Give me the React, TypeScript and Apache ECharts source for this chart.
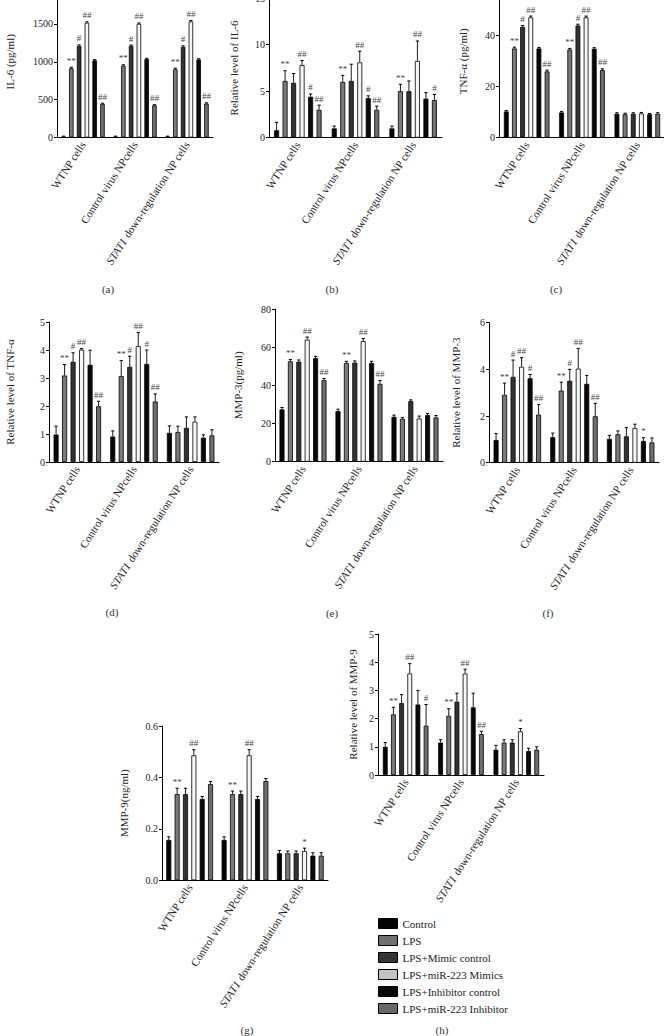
import React, { useEffect, useRef } from "react";
import * as echarts from "echarts";

const categories = ["WTNP cells", "Control virus NPcells", "STAT1 down-regulation NP cells"];
const seriesNames = [
  "Control",
  "LPS",
  "LPS+Mimic control",
  "LPS+miR-223 Mimics",
  "LPS+Inhibitor control",
  "LPS+miR-223 Inhibitor",
];

// rows = series (6), columns = cell groups (3)
const il6Values = [[12, 12, 12], [913, 948, 900], [1209, 1209, 1196], [1515, 1500, 1532], [1018, 1035, 1030], [443, 425, 448]];
const il6Errors = [[6, 6, 6], [14, 12, 14], [14, 12, 14], [12, 12, 12], [10, 10, 10], [10, 8, 10]];
const il6Marks = [["", "", ""], ["**", "**", "**"], ["#", "#", "#"], ["##", "##", "##"], ["", "", ""], ["##", "##", "##"]];

const il6RelValues = [[0.8, 1.0, 1.0], [6.1, 6.0, 5.0], [5.9, 6.1, 5.0], [7.8, 8.1, 8.25], [4.4, 4.25, 4.2], [3.0, 3.0, 4.05]];
const il6RelErrors = [[0.85, 0.25, 0.25], [1.1, 0.7, 0.75], [1.0, 1.8, 1.1], [0.5, 1.2, 2.15], [0.3, 0.25, 0.65], [0.5, 0.4, 0.6]];
const il6RelMarks = [["", "", ""], ["**", "**", "**"], ["", "", ""], ["##", "##", "##"], ["#", "#", ""], ["##", "##", "#"]];

const tnfValues = [[10.3, 9.9, 9.4], [35.0, 34.6, 9.2], [43.5, 44.0, 9.4], [47.2, 47.2, 9.5], [35.0, 34.9, 9.2], [26.0, 26.5, 9.4]];
const tnfErrors = [[0.4, 0.4, 0.4], [0.5, 0.4, 0.4], [0.5, 0.5, 0.4], [0.5, 0.5, 0.4], [0.4, 0.4, 0.3], [0.5, 0.5, 0.4]];
const tnfMarks = [["", "", ""], ["**", "**", ""], ["#", "#", ""], ["##", "##", ""], ["", "", ""], ["##", "##", ""]];

const tnfRelValues = [[0.98, 0.91, 1.04], [3.09, 3.07, 1.07], [3.58, 3.4, 1.22], [4.01, 4.14, 1.44], [3.47, 3.5, 0.87], [1.99, 2.16, 0.95]];
const tnfRelErrors = [[0.3, 0.2, 0.25], [0.39, 0.55, 0.21], [0.32, 0.38, 0.39], [0.04, 0.48, 0.17], [0.52, 0.5, 0.1], [0.18, 0.27, 0.2]];
const tnfRelMarks = [["", "", ""], ["**", "**", ""], ["#", "#", ""], ["##", "##", ""], ["", "#", ""], ["##", "##", ""]];

const mmp3Values = [[27.4, 26.5, 23.5], [52.6, 51.7, 22.5], [52.4, 51.9, 31.7], [63.9, 63.2, 22.6], [54.2, 51.7, 24.4], [42.7, 40.8, 23.2]];
const mmp3Errors = [[1.0, 1.0, 0.9], [0.9, 0.9, 0.7], [0.9, 0.9, 0.7], [1.4, 1.3, 1.3], [1.0, 0.9, 0.9], [0.9, 1.7, 1.0]];
const mmp3Marks = [["", "", ""], ["**", "**", ""], ["", "", ""], ["##", "##", ""], ["", "", ""], ["##", "##", ""]];

const mmp3RelValues = [[0.97, 1.09, 1.02], [2.91, 3.09, 1.22], [3.68, 3.51, 1.13], [4.11, 4.03, 1.49], [3.62, 3.38, 0.93], [2.06, 1.99, 0.87]];
const mmp3RelErrors = [[0.28, 0.18, 0.15], [0.5, 0.36, 0.14], [0.72, 0.49, 0.37], [0.39, 0.87, 0.16], [0.16, 0.36, 0.14], [0.43, 0.55, 0.19]];
const mmp3RelMarks = [["", "", ""], ["**", "**", ""], ["#", "#", ""], ["##", "##", ""], ["#", "", "*"], ["##", "##", ""]];

const mmp9Values = [[0.157, 0.157, 0.105], [0.335, 0.335, 0.105], [0.335, 0.335, 0.105], [0.486, 0.486, 0.114], [0.316, 0.316, 0.096], [0.374, 0.386, 0.096]];
const mmp9Errors = [[0.012, 0.012, 0.011], [0.023, 0.012, 0.009], [0.023, 0.012, 0.009], [0.022, 0.022, 0.011], [0.01, 0.01, 0.011], [0.01, 0.01, 0.011]];
const mmp9Marks = [["", "", ""], ["**", "**", ""], ["", "", ""], ["##", "##", "*"], ["", "", ""], ["", "", ""]];

const mmp9RelValues = [[1.0, 1.15, 0.9], [2.15, 2.1, 1.15], [2.55, 2.6, 1.15], [3.6, 3.6, 1.55], [2.5, 2.4, 0.85], [1.75, 1.45, 0.9]];
const mmp9RelErrors = [[0.15, 0.1, 0.15], [0.25, 0.25, 0.1], [0.3, 0.3, 0.1], [0.35, 0.15, 0.1], [0.5, 0.5, 0.1], [0.75, 0.1, 0.1]];
const mmp9RelMarks = [["", "", ""], ["**", "**", ""], ["", "", ""], ["##", "##", "*"], ["", "", ""], ["#", "##", ""]];

const yNames = [
  "IL-6 (pg/ml)",
  "Relative level of IL-6",
  "TNF-α (pg/ml)",
  "Relative level of TNF-α",
  "MMP-3(pg/ml)",
  "Relative level of MMP-3",
  "MMP-9(ng/ml)",
  "Relative level of MMP-9",
];
const yMax = [2000, 15, 60, 5, 80, 6, 0.6, 5];
const yInterval = [500, 5, 20, 1, 20, 2, 0.2, 1];
const panelLetters = ["(a)", "(b)", "(c)", "(d)", "(e)", "(f)", "(g)", "(h)"];

const panelValues = [il6Values, il6RelValues, tnfValues, tnfRelValues, mmp3Values, mmp3RelValues, mmp9Values, mmp9RelValues];
const panelErrors = [il6Errors, il6RelErrors, tnfErrors, tnfRelErrors, mmp3Errors, mmp3RelErrors, mmp9Errors, mmp9RelErrors];
const panelMarks = [il6Marks, il6RelMarks, tnfMarks, tnfRelMarks, mmp3Marks, mmp3RelMarks, mmp9Marks, mmp9RelMarks];

// ---- layout / style (not data) ----
const FONT = "'Liberation Serif', 'Times New Roman', 'DejaVu Serif', serif";
const layouts = [
  { left: 57, top: -14, width: 156, height: 151.5, bw: 4.5, gap: 0.73, nameGap: 42, letter: [108, 289], hideMax: true },
  { left: 269, top: -1.8, width: 173, height: 139.5, bw: 5, gap: 0.7, nameGap: 30, letter: [332, 289], hideMax: false },
  { left: 499, top: -15.3, width: 166, height: 153, bw: 4.8, gap: 0.7, nameGap: 31, letter: [556, 289], hideMax: true },
  { left: 49, top: 322, width: 170, height: 140, bw: 5, gap: 0.7, nameGap: 34, letter: [112, 612], hideMax: false },
  { left: 275, top: 309, width: 168, height: 152.7, bw: 5, gap: 0.68, nameGap: 32, letter: [332, 613], hideMax: false },
  { left: 489, top: 322.7, width: 170, height: 140, bw: 5, gap: 0.7, nameGap: 28, letter: [548, 613], hideMax: false },
  { left: 162, top: 726, width: 166, height: 154.3, bw: 5, gap: 0.67, nameGap: 33, letter: [247, 1030], hideMax: false },
  { left: 378, top: 634, width: 166, height: 141, bw: 4.8, gap: 0.7, nameGap: 20, letter: [442, 1030], hideMax: false },
];
const barColors = ["#050505", "#7a7a7a", "#333333", "#f6f6f6", "#0a0a0a", "#6f6f6f"];
const legendColors = ["#050505", "#707070", "#333333", "#c4c4c4", "#0a0a0a", "#686868"];

function labelFormatter(v: string) {
  if (v.indexOf("STAT1") === 0) return "{i|STAT1}{n|" + v.slice(5) + "}";
  return "{n|" + v + "}";
}

function buildOption() {
  const grid: any[] = [];
  const xAxis: any[] = [];
  const yAxis: any[] = [];
  const series: any[] = [];
  const graphic: any[] = [];

  layouts.forEach((L, g) => {
    grid.push({
      left: L.left,
      top: L.top,
      width: L.width,
      height: L.height,
      containLabel: false,
      outerBoundsMode: "none",
    });
    xAxis.push({
      type: "category",
      gridIndex: g,
      data: categories,
      axisLine: { lineStyle: { color: "#000", width: 1 } },
      axisTick: { alignWithLabel: true, length: 3, lineStyle: { color: "#000" } },
      axisLabel: {
        interval: 0,
        rotate: 57,
        margin: 5,
        formatter: labelFormatter,
        rich: {
          i: { fontStyle: "italic", fontSize: 11, fontFamily: FONT, color: "#222" },
          n: { fontSize: 11, fontFamily: FONT, color: "#222" },
        },
      },
    });
    yAxis.push({
      type: "value",
      gridIndex: g,
      min: 0,
      max: yMax[g],
      interval: yInterval[g],
      name: yNames[g],
      nameLocation: "middle",
      nameGap: L.nameGap,
      nameTextStyle: { fontSize: 11, fontFamily: FONT, color: "#222" },
      axisLine: { show: true, lineStyle: { color: "#000", width: 1 } },
      axisTick: { show: true, length: 3, lineStyle: { color: "#000" } },
      splitLine: { show: false },
      axisLabel: {
        fontSize: 10,
        fontFamily: FONT,
        color: "#222",
        margin: 4,
        showMaxLabel: !L.hideMax,
        formatter: g === 6 ? (v: number) => v.toFixed(1) : (v: number) => String(v),
      },
    });

    const vals = panelValues[g];
    const errs = panelErrors[g];
    const marks = panelMarks[g];
    for (let si = 0; si < 6; si++) {
      series.push({
        type: "bar",
        name: seriesNames[si],
        xAxisIndex: g,
        yAxisIndex: g,
        barWidth: L.bw,
        barGap: Math.round(L.gap * 100) + "%",
        data: vals[si],
        itemStyle: { color: barColors[si], borderColor: "#000", borderWidth: 0.8 },
        silent: true,
      });
      series.push({
        type: "custom",
        xAxisIndex: g,
        yAxisIndex: g,
        z: 5,
        silent: true,
        itemStyle: { color: "#444" },
        data: vals[si].map((v, ci) => [ci, v, errs[si][ci]]),
        renderItem: (params: any, api: any) => {
          const ci = api.value(0);
          const v = api.value(1);
          const e = api.value(2);
          const base = api.coord([ci, v]);
          const top = api.coord([ci, v + e]);
          const x = base[0] + (si - 2.5) * L.bw * (1 + L.gap);
          const children: any[] = [
            { type: "line", shape: { x1: x, y1: base[1], x2: x, y2: top[1] }, style: { stroke: "#000", lineWidth: 0.9 } },
            { type: "line", shape: { x1: x - 1.6, y1: top[1], x2: x + 1.6, y2: top[1] }, style: { stroke: "#000", lineWidth: 1 } },
          ];
          const m = marks[si][params.dataIndex];
          if (m) {
            children.push({
              type: "text",
              x: x,
              y: top[1] - 2,
              style: {
                text: m,
                align: "center",
                verticalAlign: "bottom",
                fontSize: 9,
                fontFamily: FONT,
                fill: "#444",
              },
            });
          }
          return { type: "group", children };
        },
      });
    }

    graphic.push({
      type: "text",
      x: L.letter[0],
      y: L.letter[1],
      style: { text: panelLetters[g], fontSize: 11, fontFamily: FONT, fill: "#333", align: "center", verticalAlign: "middle" },
    });
  });

  return {
    animation: false,
    backgroundColor: "#fff",
    grid,
    xAxis,
    yAxis,
    series,
    graphic,
    legend: {
      orient: "vertical",
      left: 378,
      top: 918,
      padding: 0,
      itemWidth: 19,
      itemHeight: 10,
      itemGap: 6,
      selectedMode: false,
      textStyle: { fontSize: 11, fontFamily: FONT, color: "#222" },
      data: seriesNames.map((n, i) => ({
        name: n,
        icon: "rect",
        itemStyle: { color: legendColors[i], borderColor: "#000", borderWidth: 1 },
        textStyle: { fontSize: 11, fontFamily: FONT, color: "#222", fontWeight: "normal" },
      })),
    },
  };
}

export default function App() {
  const ref = useRef<HTMLDivElement>(null);
  useEffect(() => {
    if (!ref.current) return;
    const chart = echarts.init(ref.current, undefined, { renderer: "svg" });
    chart.setOption(buildOption() as any);
    return () => chart.dispose();
  }, []);
  return (
    <div
      ref={ref}
      style={{ position: "absolute", left: 0, top: 0, width: 664, height: 1036, background: "#fff" }}
    />
  );
}
